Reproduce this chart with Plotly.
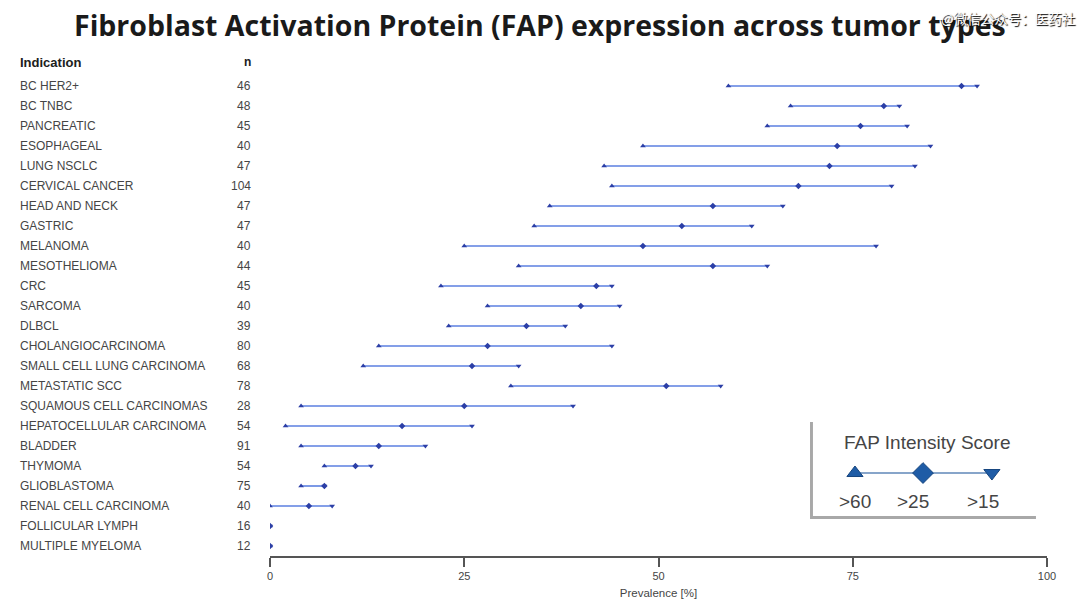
import plotly.graph_objects as go

indications = ["BC HER2+", "BC TNBC", "PANCREATIC", "ESOPHAGEAL", "LUNG NSCLC", "CERVICAL CANCER",
               "HEAD AND NECK", "GASTRIC", "MELANOMA", "MESOTHELIOMA", "CRC", "SARCOMA", "DLBCL",
               "CHOLANGIOCARCINOMA", "SMALL CELL LUNG CARCINOMA", "METASTATIC SCC",
               "SQUAMOUS CELL CARCINOMAS", "HEPATOCELLULAR CARCINOMA", "BLADDER", "THYMOMA",
               "GLIOBLASTOMA", "RENAL CELL CARCINOMA", "FOLLICULAR LYMPH", "MULTIPLE MYELOMA"]
n_values = [46, 48, 45, 40, 47, 104, 47, 47, 40, 44, 45, 40, 39, 80, 68, 78, 28, 54, 91, 54, 75, 40, 16, 12]
score_gt60 = [59, 67, 64, 48, 43, 44, 36, 34, 25, 32, 22, 28, 23, 14, 12, 31, 4, 2, 4, 7, 4, 0, 0, 0]
score_gt25 = [89, 79, 76, 73, 72, 68, 57, 53, 48, 57, 42, 40, 33, 28, 26, 51, 25, 17, 14, 11, 7, 5, 0, 0]
score_gt15 = [91, 81, 82, 85, 83, 80, 66, 62, 78, 64, 44, 45, 38, 44, 32, 58, 39, 26, 20, 13, 7, 8, 0, 0]
x_ticks = [0, 25, 50, 75, 100]
legend_labels = [">60", ">25", ">15"]
legend_pos = [0.199, 0.500, 0.805]
legend_label_pos = [0.199, 0.456, 0.765]

LINE_C = "#5b7fe0"
MARK_C = "#2c3fa6"
TXT_C = "#454545"

fig = go.Figure()

lx, ly = [], []
for i, name in enumerate(indications):
    lx += [score_gt60[i], score_gt15[i], None]
    ly += [i, i, None]
fig.add_trace(go.Scatter(x=lx, y=ly, mode="lines", line=dict(color=LINE_C, width=1.6),
                         hoverinfo="skip", showlegend=False))
rows = list(range(len(indications)))
for vals, sym, sz in [(score_gt60, "triangle-up", 5), (score_gt25, "diamond", 5), (score_gt15, "triangle-down", 5)]:
    fig.add_trace(go.Scatter(x=vals, y=rows, mode="markers",
                             marker=dict(symbol=sym, size=sz, color=MARK_C, line=dict(width=0)),
                             showlegend=False))

# legend (drawn inside an inset axis)
fig.add_trace(go.Scatter(x=[legend_pos[0], legend_pos[2]], y=[0.48, 0.48], mode="lines",
                         line=dict(color="#5f87b8", width=1.5), xaxis="x2", yaxis="y2",
                         showlegend=False, hoverinfo="skip"))
for xp, sym, sz in zip(legend_pos, ["triangle-up", "diamond", "triangle-down"], [14, 16, 14]):
    fig.add_trace(go.Scatter(x=[xp], y=[0.48], mode="markers", xaxis="x2", yaxis="y2",
                             marker=dict(symbol=sym, size=sz, color="#1f5ca6",
                                         line=dict(color="#16457e", width=1)),
                             showlegend=False, hoverinfo="skip"))

annotations = []
for i, (name, nv) in enumerate(zip(indications, n_values)):
    annotations.append(dict(x=-0.3244, y=i, xref="paper", yref="y", text=name, showarrow=False,
                            xanchor="left", yanchor="middle", font=dict(size=12, color=TXT_C)))
    annotations.append(dict(x=-0.0219, y=i, xref="paper", yref="y", text=str(nv), showarrow=False,
                            xanchor="right", yanchor="middle", font=dict(size=12, color=TXT_C)))
annotations.append(dict(x=-0.3244, y=1.0, xref="paper", yref="paper", text="<b>Indication</b>", showarrow=False,
                        xanchor="left", yanchor="middle", yshift=4, font=dict(size=13, color="#202020")))
annotations.append(dict(x=-0.0219, y=1.0, xref="paper", yref="paper", text="<b>n</b>", showarrow=False,
                        xanchor="right", yanchor="middle", yshift=4, font=dict(size=12, color="#202020")))
annotations.append(dict(x=0.518, y=0.775, xref="x2", yref="y2", text="FAP Intensity Score", showarrow=False,
                        xanchor="center", yanchor="middle", font=dict(size=19, color=TXT_C)))
for xp, lab in zip(legend_label_pos, legend_labels):
    annotations.append(dict(x=xp, y=0.196, xref="x2", yref="y2", text=lab, showarrow=False,
                            xanchor="center", yanchor="middle", font=dict(size=19, color=TXT_C)))
annotations.append(dict(x=0.3475, y=1.0, xref="paper", yref="paper",
                        text="<b>Fibroblast Activation Protein (FAP) expression across tumor types</b>",
                        showarrow=False, xanchor="center", yanchor="middle", yshift=41,
                        font=dict(size=28.5, color="#1a1a1a", family="Open Sans, Liberation Sans, Arial")))
annotations.append(dict(x=1.0, y=1.0, xref="paper", yref="paper", text="@微信公众号：医药社", showarrow=False,
                        xanchor="right", yanchor="top", yshift=60, xshift=30,
                        font=dict(size=13.5, color="white", family="Noto Sans CJK SC", shadow="1px 1px 1px black")))

shapes = [
    dict(type="rect", xref="paper", yref="paper", x0=0.695, x1=0.9858, y0=0.0755, y1=0.2735,
         fillcolor="#a8a8a8", line=dict(width=0), layer="below"),
    dict(type="rect", xref="paper", yref="paper", x0=0.6988, x1=0.991, y0=0.0816, y1=0.2776,
         fillcolor="white", line=dict(width=0), layer="below"),
]

fig.update_layout(
    width=1080, height=613,
    margin=dict(l=270, r=33, t=66, b=57),
    paper_bgcolor="white", plot_bgcolor="rgba(0,0,0,0)",
    font=dict(family="Liberation Sans, Arial", color=TXT_C),
    xaxis=dict(range=[0, 100], tickvals=x_ticks, ticktext=[str(t) for t in x_ticks],
               showgrid=False, zeroline=False, showline=True, linecolor="#555555", linewidth=1.5,
               ticks="outside", ticklen=9, tickwidth=1.5, tickcolor="#555555",
               tickfont=dict(size=11, color=TXT_C), fixedrange=True,
               title=dict(text="Prevalence [%]", font=dict(size=11.5, color=TXT_C), standoff=8)),
    yaxis=dict(range=[23.5, -1], showgrid=False, zeroline=False, showticklabels=False,
               showline=False, ticks=""),
    xaxis2=dict(domain=[0.695, 0.9858], range=[0, 1], anchor="y2", visible=False),
    yaxis2=dict(domain=[0.0694, 0.2776], range=[0, 1], anchor="x2", visible=False),
    annotations=annotations,
    shapes=shapes,
)

fig.write_html("out.html", config={"displayModeBar": False},
               post_script="document.body.style.margin='0';document.body.style.overflow='hidden';")
